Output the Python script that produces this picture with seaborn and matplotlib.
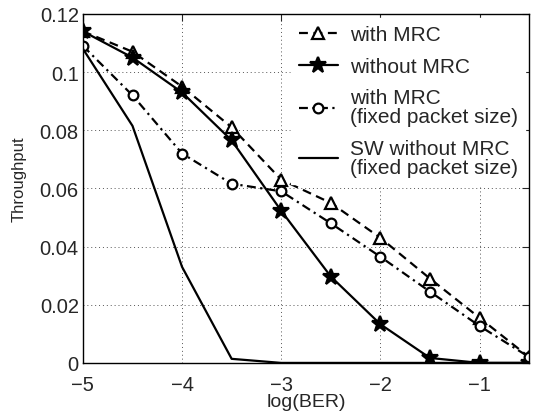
import numpy as np
import pandas as pd
import matplotlib
matplotlib.use("Agg")
import matplotlib.pyplot as plt
import seaborn as sns

# data
log_ber = [-5, -4.5, -4, -3.5, -3, -2.5, -2, -1.5, -1, -0.5]
with_mrc = [0.114, 0.107, 0.095, 0.081, 0.063, 0.055, 0.043, 0.029, 0.0155, 0.002]
without_mrc = [0.114, 0.105, 0.093, 0.0765, 0.0523, 0.0297, 0.0133, 0.0017, 0.0, 0.0]
with_mrc_fixed = [0.109, 0.092, 0.072, 0.0616, 0.059, 0.048, 0.0365, 0.0245, 0.0127, 0.002]
sw_without_mrc_fixed = [0.108, 0.0815, 0.033, 0.0014, 0.0, 0.0, 0.0, 0.0, 0.0, 0.0]

labels = ["with MRC", "without MRC", "with MRC\n(fixed packet size)",
          "SW without MRC\n(fixed packet size)"]
series = [with_mrc, without_mrc, with_mrc_fixed, sw_without_mrc_fixed]

sns.set_style("white")
plt.rcParams["font.family"] = ["Liberation Sans", "DejaVu Sans"]

fig = plt.figure(figsize=(5.35, 4.14), dpi=100)
ax = fig.add_axes([0.155, 0.121, 0.834, 0.843])

styles = [
    dict(marker="^", linestyle=(0, (4, 2.5)), markersize=8, markerfacecolor="white"),
    dict(marker="*", linestyle="-", markersize=12, markerfacecolor="black"),
    dict(marker="o", linestyle=(0, (4, 2, 1, 2)), markersize=7, markerfacecolor="white"),
    dict(marker=None, linestyle="-"),
]

for lab, vals, st in zip(labels, series, styles):
    df = pd.DataFrame({"x": log_ber, "y": vals})
    sns.lineplot(data=df, x="x", y="y", ax=ax, color="black", linewidth=1.6,
                 markeredgewidth=1.6, markeredgecolor="black", label=lab, **st)

ax.set_xlim(-5, -0.5)
ax.set_ylim(0, 0.12)
ax.set_xticks([-5, -4, -3, -2, -1])
ax.set_xticklabels(["\u22125", "\u22124", "\u22123", "\u22122", "\u22121"])
ax.set_yticks([0, 0.02, 0.04, 0.06, 0.08, 0.1, 0.12])
ax.set_yticklabels(["0", "0.02", "0.04", "0.06", "0.08", "0.1", "0.12"])
ax.grid(True, linestyle=(0, (1, 3)), color="#555555", linewidth=0.7)
ax.tick_params(direction="in", top=True, right=True, labelsize=14.5, length=5)
ax.tick_params(axis="x", pad=9)
ax.tick_params(axis="y", pad=3)
for s in ax.spines.values():
    s.set_color("black")
    s.set_linewidth(1.0)
ax.set_xlabel("log(BER)", fontsize=14, labelpad=-1)
ax.set_ylabel("Throughput", fontsize=12)
ax.yaxis.set_label_coords(-0.126, 0.53)

leg = ax.legend(loc="upper right", fontsize=15, frameon=True, fancybox=False,
                edgecolor="white", framealpha=1, handlelength=1.9,
                borderaxespad=0.2, borderpad=0.35, labelspacing=0.6,
                handletextpad=0.55)
for t in leg.get_texts():
    t.set_linespacing(1.0)

fig.savefig("out.png", dpi=100)
